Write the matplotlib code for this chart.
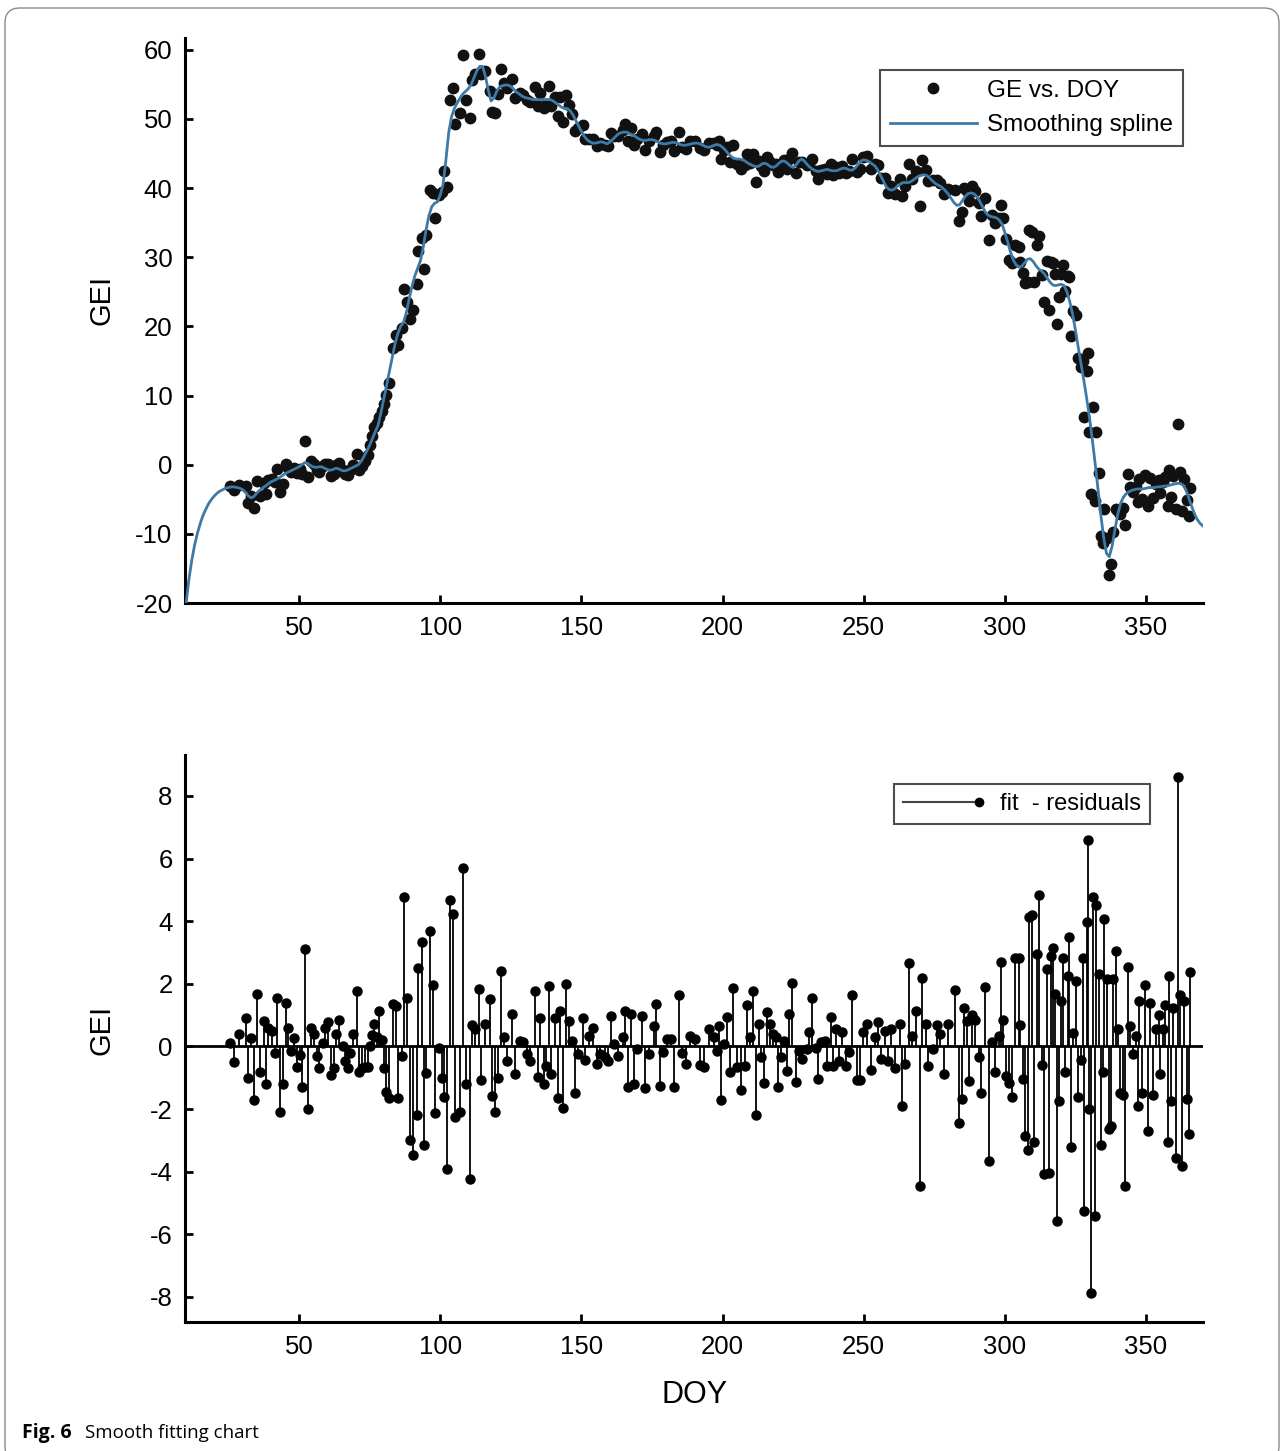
import numpy as np
import matplotlib.pyplot as plt
from matplotlib.lines import Line2D
from matplotlib.legend_handler import HandlerBase
from matplotlib.patches import FancyBboxPatch

plt.rcParams['font.family'] = ['Liberation Sans', 'DejaVu Sans']
plt.rcParams['axes.unicode_minus'] = False

#-------------------------------------------------------------------------------
# Data

# smoothing spline, one value per day from DOY 10 to DOY 370
spline_doy = np.arange(10, 371)
spline_gei = np.array([
    -20.0, -16.5, -13.8, -11.6, -9.9, -8.5, -7.3, -6.4, -5.6, -5.0,
    -4.5, -4.1, -3.8, -3.6, -3.4, -3.3, -3.2, -3.2, -3.3, -3.4,
    -3.6, -4.0, -4.5, -4.8, -4.6, -4.1, -3.7, -3.4, -3.1, -2.8,
    -2.5, -2.3, -2.1, -1.9, -1.6, -1.3, -1.1, -0.9, -0.7, -0.5,
    -0.3, 0.0, 0.3, 0.2, -0.1, -0.3, -0.4, -0.3, -0.3, -0.5,
    -0.7, -0.8, -0.7, -0.5, -0.6, -0.8, -0.9, -0.8, -0.6, -0.4,
    -0.2, 0.0, 0.5, 1.2, 2.0, 2.8, 3.8, 4.8, 5.7, 7.5,
    9.5, 11.5, 13.5, 15.5, 17.5, 19.0, 20.0, 20.6, 22.0, 24.0,
    25.8, 27.3, 28.4, 29.5, 31.5, 34.0, 36.0, 37.3, 37.8, 38.0,
    39.0, 40.5, 44.0, 48.0, 50.3, 51.5, 52.3, 53.0, 53.6, 54.0,
    54.4, 55.0, 56.0, 57.0, 57.6, 57.6, 56.2, 54.2, 52.6, 53.0,
    54.0, 54.6, 54.8, 54.9, 54.9, 54.7, 54.3, 53.9, 53.6, 53.3,
    53.1, 53.0, 52.9, 52.8, 52.8, 52.8, 52.8, 52.8, 52.8, 52.8,
    52.6, 52.3, 52.0, 51.7, 51.5, 51.5, 51.2, 50.6, 49.8, 49.0,
    48.2, 47.5, 47.0, 46.7, 46.5, 46.5, 46.6, 46.7, 46.6, 46.4,
    46.6, 47.0, 47.4, 47.8, 48.0, 48.1, 48.1, 47.9, 47.7, 47.5,
    47.2, 47.0, 46.9, 46.9, 47.0, 47.0, 46.9, 46.7, 46.5, 46.4,
    46.4, 46.5, 46.6, 46.6, 46.5, 46.3, 46.2, 46.2, 46.3, 46.4,
    46.5, 46.5, 46.4, 46.2, 46.0, 45.9, 46.0, 46.2, 46.3, 46.2,
    45.9, 45.5, 45.0, 44.6, 44.3, 44.2, 44.2, 44.1, 43.9, 43.6,
    43.4, 43.2, 43.1, 43.2, 43.5, 43.6, 43.4, 43.1, 43.0, 43.2,
    43.6, 43.9, 43.9, 43.6, 43.2, 43.0, 43.3, 43.9, 44.2, 43.9,
    43.4, 43.0, 42.7, 42.5, 42.4, 42.5, 42.6, 42.7, 42.6, 42.5,
    42.5, 42.6, 42.8, 42.9, 42.8, 42.6, 42.6, 42.9, 43.4, 43.9,
    44.1, 44.0, 43.8, 43.5, 43.2, 42.6, 41.8, 41.0, 40.2, 39.8,
    39.7, 39.9, 40.3, 40.6, 40.8, 40.8, 40.8, 41.0, 41.3, 41.6,
    41.8, 41.9, 41.9, 41.6, 41.2, 40.8, 40.5, 40.3, 40.0, 39.6,
    39.1, 38.5, 37.9, 37.5, 37.6, 38.2, 38.8, 39.2, 39.3, 39.2,
    38.8, 38.2, 37.4, 36.6, 36.1, 35.9, 35.8, 35.7, 35.4, 34.8,
    33.6, 32.2, 30.8, 29.6, 28.9, 28.6, 28.7, 29.2, 29.7, 29.8,
    29.4, 28.8, 28.3, 28.0, 27.6, 27.0, 26.4, 26.0, 25.9, 26.0,
    26.1, 25.9, 25.0, 23.6, 21.8, 19.5, 17.0, 14.6, 12.2, 9.6,
    6.8, 3.6, 0.2, -3.5, -7.2, -10.5, -12.8, -13.3, -11.8, -9.4,
    -7.2, -5.6, -4.7, -4.2, -3.9, -3.7, -3.6, -3.5, -3.5, -3.5,
    -3.4, -3.3, -3.3, -3.3, -3.2, -3.2, -3.1, -3.1, -3.0, -2.9,
    -2.8, -2.7, -2.7, -2.9, -3.5, -4.6, -5.8, -6.9, -7.8, -8.4,
    -8.8])

# observation days
doy = np.array([
    25.5, 27.1, 28.7, 31.1, 32.0, 33.0, 34.2, 35.1, 36.2, 37.4,
    38.2, 39.1, 40.3, 41.3, 42.1, 43.3, 44.4, 45.3, 46.2, 47.2,
    48.3, 49.2, 50.4, 51.2, 52.1, 53.3, 54.3, 55.4, 56.3, 57.2,
    58.4, 59.2, 60.4, 61.3, 62.2, 63.0, 64.3, 65.4, 66.3, 67.3,
    68.1, 69.1, 70.5, 71.3, 72.4, 73.4, 74.3, 75.2, 76.0, 76.7,
    77.7, 78.4, 79.3, 80.0, 80.9, 81.9, 83.1, 84.4, 85.2, 86.4,
    87.3, 88.4, 89.4, 90.4, 91.6, 92.1, 93.4, 94.3, 95.1, 96.4,
    97.3, 98.2, 99.6, 100.6, 101.5, 102.5, 103.3, 104.5, 105.3, 107.1,
    107.9,
    109.2, 110.4, 111.2, 112.4, 113.6, 114.4, 116.0, 117.5, 118.4, 119.4,
    120.6, 121.5, 122.7, 123.6, 125.4, 126.6, 128.1, 129.3, 130.7, 131.9,
    133.7, 134.5, 135.5, 136.6, 137.6, 138.5, 139.2, 140.8, 141.6, 142.3,
    143.5, 144.7, 145.6, 146.7, 147.6, 148.7, 150.5, 151.4, 152.6, 154.1,
    155.6, 156.7, 158.2, 159.5, 160.6, 161.7, 162.9, 164.7, 165.6, 166.5,
    167.6, 168.6, 169.7, 171.5, 172.5, 173.9, 175.6, 176.6, 177.7, 178.8,
    180.4, 181.8, 182.7, 184.5, 185.7, 187.2, 188.6, 190.4, 192.2,
    193.4, 195.2, 196.9, 197.9, 198.7, 199.5, 200.7, 201.7, 202.8, 203.7,
    205.2, 206.6, 207.8, 208.7, 209.7, 210.8, 211.7, 212.9, 213.8, 214.7,
    215.8, 216.8, 218.0, 218.9, 219.7, 220.8, 221.7, 222.7, 223.6, 224.7,
    225.9, 227.1, 228.3, 229.8, 230.7, 231.8, 233.0, 233.8, 235.0, 236.2,
    237.1, 238.3, 239.2, 240.1, 241.3, 242.4, 243.6, 244.8, 246.0, 247.5,
    248.7, 249.9, 251.1, 252.7, 253.9, 255.1, 256.3, 257.4, 258.6, 259.8,
    261.0, 262.9, 263.7, 264.8, 265.9, 267.3, 268.4, 270.0, 270.8, 272.0,
    272.9, 274.4, 275.9, 277.1, 278.3, 279.7,
    282.4, 283.6, 284.8, 285.6, 286.5, 287.4, 288.4, 289.5, 290.7, 291.5,
    293.1, 294.3, 295.4, 296.6, 297.8, 298.6, 299.2, 300.4, 301.6, 302.5,
    303.7, 304.9, 305.4, 306.3, 307.3, 308.1, 308.7, 309.6, 310.5, 311.3,
    312.2, 313.2, 314.0, 314.8, 315.5, 316.4, 317.2, 317.9, 318.4, 319.3,
    319.9, 320.5, 321.4, 322.3, 322.9, 323.5, 324.3, 325.2, 325.8, 327.0,
    327.6, 328.2, 329.0, 329.4, 330.0, 330.6, 331.4, 331.9, 332.3, 333.3,
    334.1, 334.7, 335.3, 336.1, 336.8, 337.6, 338.5, 339.4, 340.0, 340.8,
    341.8, 342.7, 343.6, 344.4, 345.3, 346.3, 347.1, 347.7, 348.6, 349.8,
    350.6, 351.5, 352.4, 353.4, 354.5, 355.0, 356.0, 356.9, 357.7, 358.3,
    359.0, 359.7, 360.5, 361.5, 362.1, 362.8, 363.6, 364.5, 365.2, 365.7])

# fit residuals at each observation
residuals = np.array([
    0.1, -0.5, 0.4, 0.9, -1.0, 0.27, -1.7, 1.68, -0.8, 0.8,
    -1.2, 0.6, 0.5, -0.2, 1.55, -2.1, -1.2, 1.4, 0.6, -0.15,
    0.27, -0.67, -0.27, -1.3, 3.1, -2.0, 0.6, 0.4, -0.3, -0.7,
    0.1, 0.6, 0.77, -0.9, -0.7, 0.4, 0.85, 0.0, -0.45, -0.7,
    -0.2, 0.4, 1.78, -0.8, -0.7, -0.67, -0.65, 0.0, 0.37, 0.72,
    0.3, 1.14, 0.2, -0.7, -1.45, -1.65, 1.36, 1.28, -1.63, -0.3,
    4.76, 1.55, -3.0, -3.46, -2.2, 2.5, 3.33, -3.14, -0.85, 3.7,
    1.97, -2.13, -0.05, -1.0, -1.6, -3.9, 4.67, 4.23, -2.24, -2.08,
    5.7,
    -1.2, -4.24, 0.7, 0.55, 1.83, -1.08, 0.73, 1.5, -1.58, -2.1,
    -1.0, 2.4, 0.29, -0.46, 1.03, -0.88, 0.18, 0.13, -0.25, -0.46,
    1.76, -0.99, 0.9, -1.2, -0.62, 1.94, -0.88, 0.9, -1.63, 1.14,
    -1.95, 2.0, 0.8, 0.18, -1.5, -0.25, 0.9, -0.44, 0.34, 0.58,
    -0.56, -0.25, -0.35, -0.46, 0.98, 0.07, -0.3, 0.29, 1.14, -1.31,
    1.03, -1.2, -0.09, 0.98, -1.33, -0.25, 0.66, 1.35, -1.26, -0.19,
    0.23, 0.23, -1.29, 1.65, -0.2, -0.55, 0.35, 0.25, -0.6,
    -0.67, 0.55, 0.29, -0.14, 0.66, -1.71, 0.07, 0.93, -0.83, 1.86,
    -0.67, -1.4, -0.62, 1.33, 0.29, 1.78, -2.18, 0.71, -0.35, -1.16,
    1.09, 0.71, 0.39, 0.29, -1.31, -0.35, 0.18, -0.78, 1.03, 2.04,
    -1.15, -0.14, -0.4, -0.09, 0.45, 1.54, -0.05, -1.04, 0.13, 0.18,
    -0.62, 0.93, -0.62, 0.55, -0.46, 0.45, -0.62, -0.19, 1.65, -1.08,
    -1.08, 0.45, 0.71, -0.76, 0.29, 0.77, -0.4, 0.5, -0.46, 0.55,
    -0.69, 0.71, -1.9, -0.56, 2.68, 0.34, 1.14, -4.45, 2.18, 0.73,
    -0.62, -0.09, 0.69, 0.39, -0.88, 0.73,
    1.8, -2.43, -1.67, 1.23, 0.8, -1.1, 1.02, 0.83, -0.34, -1.5,
    1.91, -3.66, 0.15, -0.82, 0.32, 2.71, 0.83, -0.93, -1.16, -1.62,
    2.82, 2.82, 0.68, -1.05, -2.87, -3.32, 4.13, 4.19, -3.04, 2.94,
    4.84, -0.59, -4.06, 2.48, -4.03, 2.88, 3.16, 1.68, -5.57, -1.73,
    1.46, 2.82, -0.82, 2.25, 3.5, -3.21, 0.43, 2.08, -1.62, -0.42,
    2.82, -5.26, 3.96, 6.58, -2.01, -7.87, 4.76, -5.43, 4.53, 2.31,
    -3.15, -0.8, 4.07, 2.14, -2.64, -2.53, 2.14, 3.05, 0.55, -1.5,
    -1.56, -4.46, 2.54, 0.66, -0.25, 0.32, -1.9, 1.46, -1.5, 1.97,
    -2.7, 1.4, -1.56, 0.55, 1.0, -0.88, 0.55, 1.34, -3.04, 2.25,
    -1.73, 1.23, -3.55, 8.6, 1.63, -3.83, 1.46, -1.67, -2.81, 2.37])

# observed GEI = spline value on that day + residual
gei = spline_gei[np.round(doy).astype(int) - spline_doy[0]] + residuals

#-------------------------------------------------------------------------------
# Figure

fig = plt.figure(figsize=(12.84, 14.51), dpi=100)
ax1 = fig.add_axes([0.1441, 0.5844, 0.7928, 0.3894])
ax2 = fig.add_axes([0.1441, 0.0889, 0.7928, 0.3908])

xlim = (9.6, 370.2)

for ax in (ax1, ax2):
    ax.spines['top'].set_visible(False)
    ax.spines['right'].set_visible(False)
    ax.spines['left'].set_linewidth(2.2)
    ax.spines['bottom'].set_linewidth(2.2)
    ax.tick_params(direction='in', length=6, width=2, labelsize=18.5)
    ax.tick_params(axis='x', pad=9)
    ax.tick_params(axis='y', pad=9)
    ax.set_xlim(*xlim)
    ax.set_xticks([50, 100, 150, 200, 250, 300, 350])

# top: data and smoothing spline
ax1.plot(doy, gei, 'o', color='#111111', ms=7.5, ls='none',
         label='GE vs. DOY', zorder=2)
ax1.plot(spline_doy, spline_gei, color='#3d7aa8', lw=2,
         label='Smoothing spline', zorder=3)
ax1.set_ylim(-20, 61.7)
ax1.set_yticks(range(-20, 61, 10))
ax1.set_ylabel('GEI', fontsize=21)
ax1.yaxis.set_label_coords(-0.068, 0.536)
leg1 = ax1.legend(loc='upper right', bbox_to_anchor=(0.980, 0.943),
                  fontsize=17.5, fancybox=False, edgecolor='#222222',
                  borderaxespad=0, handlelength=3.6, handletextpad=0.4,
                  labelspacing=0.5, borderpad=0.4, handleheight=0.7)
leg1.get_frame().set_linewidth(1.5)

# bottom: residual stems
ml, sl, bl = ax2.stem(doy, residuals, linefmt='k-', markerfmt='ko', basefmt='k-')
plt.setp(sl, linewidth=1.3)
plt.setp(ml, markersize=6.5)
bl.set_data(list(xlim), [0, 0])
bl.set_linewidth(2)
ax2.set_ylim(-8.8, 9.31)
ax2.set_yticks(range(-8, 9, 2))
ax2.set_ylabel('GEI', fontsize=21)
ax2.yaxis.set_label_coords(-0.068, 0.515)
ax2.set_xlabel('DOY', fontsize=22)
ax2.xaxis.set_label_coords(0.501, -0.102)


class StemHandler(HandlerBase):
    # line with a dot on its right end, like the original legend
    def create_artists(self, legend, orig_handle, xdescent, ydescent,
                       width, height, fontsize, trans):
        y = height / 2 - ydescent
        line = Line2D([-xdescent, width - xdescent], [y, y], color='#444444',
                      lw=1.5, transform=trans)
        dot = Line2D([width - xdescent], [y], marker='o', ms=6, color='k',
                     ls='none', transform=trans)
        return [line, dot]


leg2 = ax2.legend([ml], ['fit  - residuals'], handler_map={ml: StemHandler()},
                  loc='upper right', bbox_to_anchor=(0.948, 0.949),
                  fontsize=17, fancybox=False, edgecolor='#222222',
                  borderaxespad=0, handlelength=3.2, handletextpad=0.9,
                  borderpad=0.38)
leg2.get_frame().set_linewidth(1.5)

# caption and frame
fig.text(22 / 1284, 13 / 1451, 'Fig. 6', fontsize=14, fontweight='bold',
         family=['Open Sans', 'DejaVu Sans'], va='baseline')
fig.text(85 / 1284, 13 / 1451, 'Smooth fitting chart', fontsize=13.5,
         family=['Open Sans', 'DejaVu Sans'], va='baseline')
frame = FancyBboxPatch((0.05, -0.1), 12.74, 14.53, transform=fig.dpi_scale_trans,
                       boxstyle='round,pad=0,rounding_size=0.15',
                       fill=False, edgecolor='#8a8a8a', lw=1)
fig.patches.append(frame)

fig.savefig('out.png', dpi=100)
